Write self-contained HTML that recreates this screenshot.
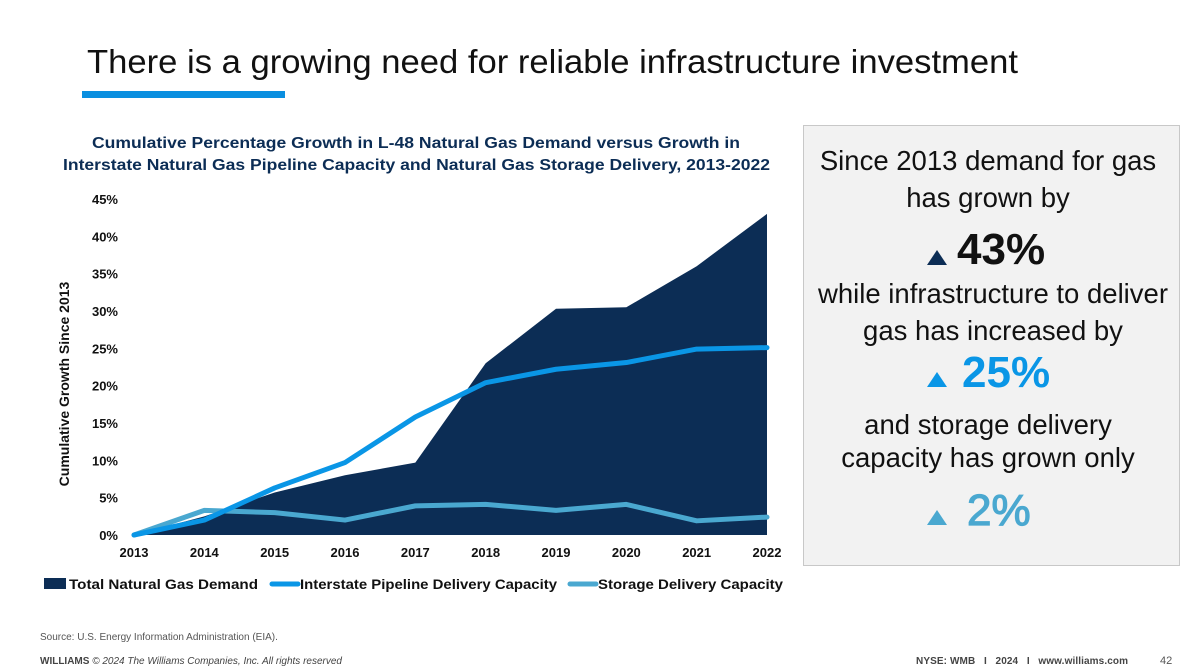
<!DOCTYPE html>
<html><head><meta charset="utf-8"><style>
html,body{margin:0;padding:0;background:#fff;}
svg{display:block;font-family:"Liberation Sans",Arial,sans-serif;}
</style></head><body>
<svg id="s" width="1200" height="672" viewBox="0 0 1200 672">
<text x="87" y="73" font-size="33" fill="#111" textLength="931" lengthAdjust="spacingAndGlyphs">There is a growing need for reliable infrastructure investment</text>
<rect x="82" y="91" width="203" height="7" fill="#0a8fe0"/>
<text x="92" y="148" font-size="16" font-weight="bold" fill="#0c2d55" textLength="648" lengthAdjust="spacingAndGlyphs">Cumulative Percentage Growth in L-48 Natural Gas Demand versus Growth in</text>
<text x="63" y="170" font-size="16" font-weight="bold" fill="#0c2d55" textLength="707" lengthAdjust="spacingAndGlyphs">Interstate Natural Gas Pipeline Capacity and Natural Gas Storage Delivery, 2013-2022</text>
<text transform="translate(69,384) rotate(-90)" text-anchor="middle" font-size="14" font-weight="bold" fill="#111">Cumulative Growth Since 2013</text>
<g id="plot"></g>
<g id="legend">
<rect x="44" y="578" width="22" height="11" fill="#0c2d55"/>
<text x="69" y="589" font-size="14" font-weight="bold" fill="#111" textLength="189" lengthAdjust="spacingAndGlyphs">Total Natural Gas Demand</text>
<line x1="272" y1="584" x2="298" y2="584" stroke="#0a96e6" stroke-width="5" stroke-linecap="round"/>
<text x="300" y="589" font-size="14" font-weight="bold" fill="#111" textLength="257" lengthAdjust="spacingAndGlyphs">Interstate Pipeline Delivery Capacity</text>
<line x1="570" y1="584" x2="596" y2="584" stroke="#4aa8d0" stroke-width="5" stroke-linecap="round"/>
<text x="598" y="589" font-size="14" font-weight="bold" fill="#111" textLength="185" lengthAdjust="spacingAndGlyphs">Storage Delivery Capacity</text>
</g>
<g>
<rect x="803.5" y="125.5" width="376" height="440" fill="#f2f2f2" stroke="#c8c8c8"/>
<g font-size="27.5" fill="#111" text-anchor="middle">
<text x="988" y="170">Since 2013 demand for gas</text>
<text x="988" y="207">has grown by</text>
<text x="993" y="303">while infrastructure to deliver</text>
<text x="993" y="340">gas has increased by</text>
<text x="988" y="434">and storage delivery</text>
<text x="988" y="467">capacity has grown only</text>
</g>
<polygon points="927,265 937,250 947,265" fill="#0c2d55"/>
<text x="957" y="264" font-size="44" font-weight="bold" fill="#111">43%</text>
<polygon points="927,387 937,372 947,387" fill="#0a96e6"/>
<text x="962" y="387" font-size="44" font-weight="bold" fill="#0a96e6">25%</text>
<polygon points="927,525 937,510 947,525" fill="#4aa8d0"/>
<text x="967" y="525" font-size="44" fill="#4aa8d0" stroke="#4aa8d0" stroke-width="1.2">2%</text>
</g>
<text x="40" y="640" font-size="10" fill="#555">Source: U.S. Energy Information Administration (EIA).</text>
<text x="40" y="664" font-size="10" fill="#444"><tspan font-weight="bold">WILLIAMS</tspan><tspan font-style="italic"> © 2024 The Williams Companies, Inc. All rights reserved</tspan></text>
<text x="916" y="664" font-size="10" font-weight="bold" fill="#444" xml:space="preserve" textLength="212">NYSE: WMB   I   2024   I   www.williams.com</text>
<text x="1160" y="664" font-size="11" fill="#555">42</text>
</svg>
<script>
const years = ["2013","2014","2015","2016","2017","2018","2019","2020","2021","2022"];
const demand = [0, 2.5, 5.7, 8.0, 9.7, 23.0, 30.3, 30.5, 36.0, 43.0];
const pipeline = [0, 2.0, 6.3, 9.7, 15.8, 20.4, 22.2, 23.1, 24.9, 25.1];
const storage = [0, 3.3, 3.0, 2.0, 3.9, 4.1, 3.3, 4.1, 1.9, 2.4];
const yTicks = [0,5,10,15,20,25,30,35,40,45];

const NS="http://www.w3.org/2000/svg";
const plot=document.getElementById('plot');
const x0=134,x1=767,y0=535,y45=199;
const xs=i=>x0+(x1-x0)*i/(years.length-1);
const ys=v=>y0-(y0-y45)*v/45;
function mk(t,a){const e=document.createElementNS(NS,t);for(const k in a)e.setAttribute(k,a[k]);plot.appendChild(e);return e;}
let d="M"+xs(0)+","+y0;
demand.forEach((v,i)=>d+=" L"+xs(i)+","+ys(v));
d+=" L"+xs(demand.length-1)+","+y0+" Z";
const area=mk('path',{d:d,fill:'#0c2d55'});


function line(arr,col,name){
  const p=mk('polyline',{points:arr.map((v,i)=>xs(i)+","+ys(v)).join(" "),fill:'none',stroke:col,'stroke-width':5,'stroke-linejoin':'round','stroke-linecap':'round'});
  
  
}
line(storage,'#4aa8d0','storage-line');
line(pipeline,'#0a96e6','pipeline-line');
yTicks.forEach(v=>{
  const t=mk('text',{x:118,y:ys(v)+5,'text-anchor':'end','font-size':13,'font-weight':'bold',fill:'#111'});
  t.textContent=v+"%";
  
  
});
years.forEach((y,i)=>{
  const t=mk('text',{x:xs(i),y:557,'text-anchor':'middle','font-size':13,'font-weight':'bold',fill:'#111'});
  t.textContent=y;
  
  
});
</script>
</body></html>
